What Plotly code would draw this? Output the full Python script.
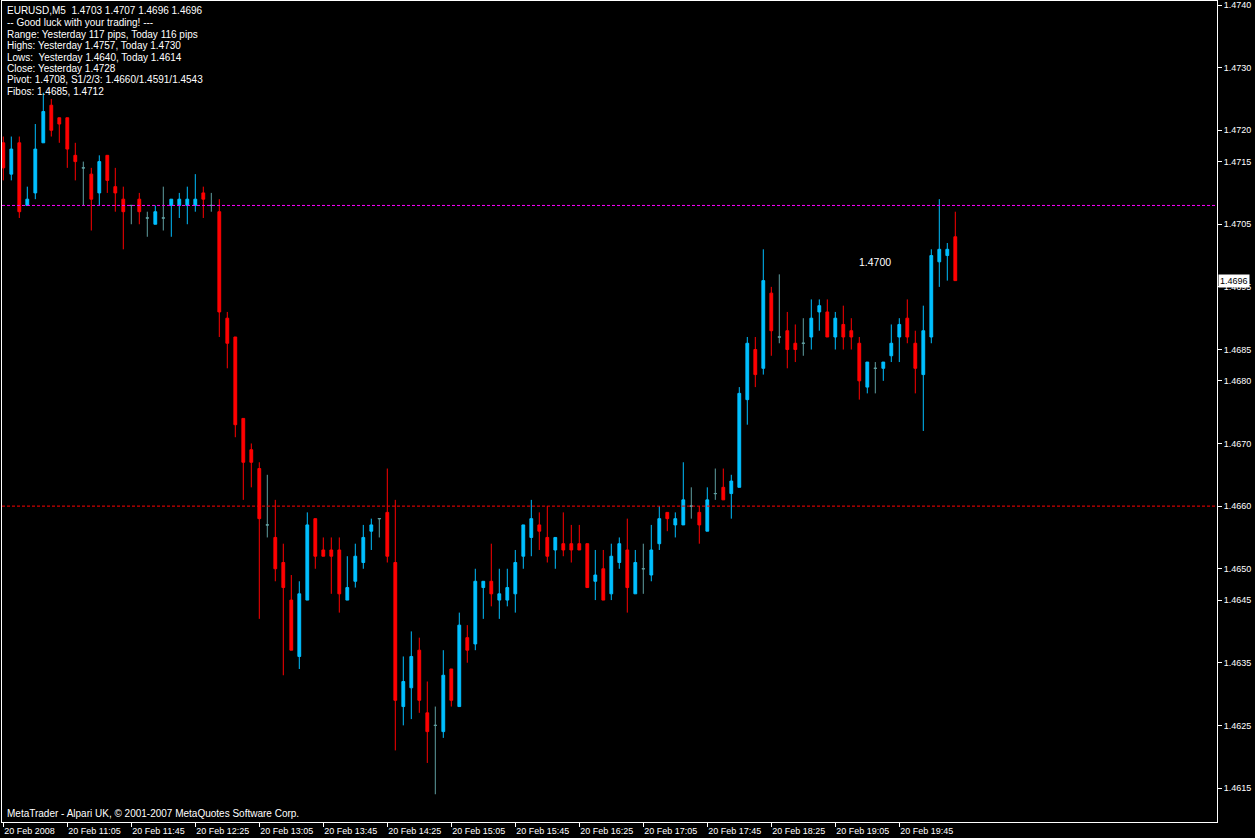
"""
Grafico a candele EURUSD M5 in stile MetaTrader 4 (20 Feb 2008).
"""

import pandas as pd
import plotly.graph_objects as go


# ========== DATI OHLC ==========
opens = [
    1.4718, 1.4713, 1.4718, 1.4708, 1.4710, 1.4718, 1.4724, 1.4722, 1.4722, 1.4716,
    1.4714, 1.4713, 1.4710, 1.4716, 1.4711, 1.4709, 1.4708, 1.4709, 1.4706, 1.4705,
    1.4706, 1.4708, 1.4708, 1.4708, 1.4708, 1.4710, 1.4708, 1.4707, 1.4690, 1.4687,
    1.4674, 1.4669, 1.4666, 1.4657, 1.4655, 1.4651, 1.4645, 1.4636, 1.4645, 1.4658,
    1.4653, 1.4653, 1.4653, 1.4645, 1.4648, 1.4651, 1.4656, 1.4658, 1.4659, 1.4651,
    1.4628, 1.4631, 1.4637, 1.4627, 1.4625, 1.4624, 1.4634, 1.4628, 1.4639, 1.4638,
    1.4647, 1.4648, 1.4645, 1.4645, 1.4646, 1.4652, 1.4655, 1.4657, 1.4655, 1.4653,
    1.4654, 1.4654, 1.4654, 1.4654, 1.4648, 1.4650, 1.4646, 1.4651, 1.4653, 1.4646,
    1.4650, 1.4649, 1.4654, 1.4659, 1.4657, 1.4657, 1.4660, 1.4659, 1.4656, 1.4662,
    1.4663, 1.4662, 1.4663, 1.4677, 1.4685, 1.4682, 1.4694, 1.4687, 1.4688, 1.4686,
    1.4686, 1.4687, 1.4691, 1.4691, 1.4687, 1.4689, 1.4688, 1.4686, 1.4679, 1.4682,
    1.4682, 1.4684, 1.4687, 1.4690, 1.4686, 1.4681, 1.4687, 1.4699, 1.4700, 1.4703,
]
highs = [
    1.4719, 1.4719, 1.4719, 1.4711, 1.4721, 1.4726, 1.4725, 1.4722, 1.4722, 1.4718,
    1.4715, 1.4714, 1.4716, 1.4716, 1.4714, 1.4711, 1.4708, 1.4710, 1.4707, 1.4708,
    1.4711, 1.4709, 1.4710, 1.4711, 1.4713, 1.4711, 1.4710, 1.4709, 1.4691, 1.4687,
    1.4674, 1.4670, 1.4667, 1.4665, 1.4661, 1.4654, 1.4649, 1.4648, 1.4659, 1.4658,
    1.4655, 1.4655, 1.4655, 1.4652, 1.4654, 1.4657, 1.4658, 1.4658, 1.4666, 1.4661,
    1.4636, 1.4640, 1.4639, 1.4632, 1.4628, 1.4637, 1.4634, 1.4643, 1.4641, 1.4650,
    1.4648, 1.4654, 1.4650, 1.4650, 1.4653, 1.4657, 1.4661, 1.4659, 1.4660, 1.4655,
    1.4659, 1.4657, 1.4657, 1.4654, 1.4653, 1.4653, 1.4654, 1.4655, 1.4658, 1.4653,
    1.4654, 1.4657, 1.4660, 1.4659, 1.4659, 1.4667, 1.4663, 1.4660, 1.4663, 1.4666,
    1.4666, 1.4665, 1.4679, 1.4687, 1.4687, 1.4701, 1.4695, 1.4697, 1.4691, 1.4689,
    1.4690, 1.4693, 1.4693, 1.4693, 1.4691, 1.4692, 1.4690, 1.4687, 1.4683, 1.4683,
    1.4683, 1.4689, 1.4690, 1.4693, 1.4688, 1.4692, 1.4701, 1.4709, 1.4702, 1.4707,
]
lows = [
    1.4712, 1.4712, 1.4706, 1.4708, 1.4709, 1.4718, 1.4719, 1.4718, 1.4714, 1.4712,
    1.4708, 1.4704, 1.4708, 1.4710, 1.4707, 1.4701, 1.4705, 1.4705, 1.4703, 1.4705,
    1.4704, 1.4703, 1.4706, 1.4705, 1.4707, 1.4706, 1.4707, 1.4687, 1.4682, 1.4671,
    1.4661, 1.4663, 1.4642, 1.4655, 1.4648, 1.4633, 1.4637, 1.4634, 1.4645, 1.4650,
    1.4652, 1.4646, 1.4643, 1.4645, 1.4647, 1.4650, 1.4653, 1.4655, 1.4651, 1.4621,
    1.4625, 1.4626, 1.4627, 1.4619, 1.4614, 1.4623, 1.4628, 1.4628, 1.4635, 1.4637,
    1.4642, 1.4644, 1.4642, 1.4644, 1.4643, 1.4650, 1.4652, 1.4653, 1.4651, 1.4650,
    1.4652, 1.4651, 1.4653, 1.4647, 1.4645, 1.4645, 1.4645, 1.4650, 1.4643, 1.4646,
    1.4646, 1.4648, 1.4653, 1.4656, 1.4655, 1.4657, 1.4658, 1.4654, 1.4656, 1.4661,
    1.4661, 1.4658, 1.4663, 1.4673, 1.4679, 1.4681, 1.4684, 1.4686, 1.4682, 1.4683,
    1.4684, 1.4685, 1.4688, 1.4687, 1.4685, 1.4685, 1.4685, 1.4677, 1.4678, 1.4678,
    1.4680, 1.4683, 1.4683, 1.4686, 1.4678, 1.4672, 1.4686, 1.4695, 1.4696, 1.4696,
]
closes = [
    1.4714, 1.4717, 1.4707, 1.4709, 1.4717, 1.4723, 1.4720, 1.4721, 1.4717, 1.4715,
    1.4714, 1.4709, 1.4715, 1.4712, 1.4710, 1.4707, 1.4708, 1.4707, 1.4706, 1.4707,
    1.4706, 1.4709, 1.4709, 1.4709, 1.4709, 1.4709, 1.4708, 1.4691, 1.4686, 1.4673,
    1.4667, 1.4667, 1.4658, 1.4657, 1.4650, 1.4647, 1.4637, 1.4646, 1.4657, 1.4652,
    1.4652, 1.4652, 1.4646, 1.4647, 1.4652, 1.4655, 1.4657, 1.4658, 1.4652, 1.4629,
    1.4632, 1.4636, 1.4629, 1.4624, 1.4625, 1.4633, 1.4629, 1.4641, 1.4637, 1.4648,
    1.4648, 1.4646, 1.4646, 1.4647, 1.4651, 1.4657, 1.4658, 1.4656, 1.4652, 1.4655,
    1.4653, 1.4653, 1.4653, 1.4647, 1.4649, 1.4645, 1.4652, 1.4654, 1.4647, 1.4651,
    1.4650, 1.4653, 1.4658, 1.4658, 1.4658, 1.4661, 1.4660, 1.4657, 1.4661, 1.4662,
    1.4661, 1.4664, 1.4678, 1.4686, 1.4681, 1.4696, 1.4688, 1.4687, 1.4685, 1.4685,
    1.4686, 1.4690, 1.4692, 1.4687, 1.4690, 1.4687, 1.4687, 1.4680, 1.4683, 1.4682,
    1.4683, 1.4686, 1.4689, 1.4687, 1.4682, 1.4688, 1.4700, 1.4701, 1.4701, 1.4696,
]

start_time = "2008-02-20 10:25"

# Etichette asse tempo (una ogni 8 barre = 40 minuti)
time_labels = [
    "20 Feb 2008", "20 Feb 11:05", "20 Feb 11:45", "20 Feb 12:25", "20 Feb 13:05",
    "20 Feb 13:45", "20 Feb 14:25", "20 Feb 15:05", "20 Feb 15:45", "20 Feb 16:25",
    "20 Feb 17:05", "20 Feb 17:45", "20 Feb 18:25", "20 Feb 19:05", "20 Feb 19:45",
]

# Etichette asse prezzi (come MetaTrader, non regolari)
price_ticks = [
    1.4740, 1.4730, 1.4720, 1.4715, 1.4705, 1.4695, 1.4685, 1.4680,
    1.4670, 1.4660, 1.4650, 1.4645, 1.4635, 1.4625, 1.4615,
]

pivot_level = 1.4708
s1_level = 1.4660
marker_text = "1.4700"
marker_price = 1.4699

info_lines = [
    "EURUSD,M5  1.4703 1.4707 1.4696 1.4696",
    "-- Good luck with your trading! ---",
    "Range: Yesterday 117 pips, Today 116 pips",
    "Highs: Yesterday 1.4757, Today 1.4730",
    "Lows:  Yesterday 1.4640, Today 1.4614",
    "Close: Yesterday 1.4728",
    "Pivot: 1.4708, S1/2/3: 1.4660/1.4591/1.4543",
    "Fibos: 1.4685, 1.4712",
]
footer_text = "MetaTrader - Alpari UK, \u00a9 2001-2007 MetaQuotes Software Corp."


# ========== STILE ==========
COLORS = {
    'bull': '#00bfff',
    'bear': '#ff0000',
    'doji': '#5f9ea0',
    'pivot': '#ff00ff',
    'support': '#ff0000',
    'text': '#ffffff',
}
FONT = 'Liberation Sans, Arial, sans-serif'

W, H = 1255, 838
M_L, M_R, M_T, M_B = 2, 38, 1, 16
PLOT_H = H - M_T - M_B
BAR_PX = 8.0          # distanza tra candele in pixel
FIRST_PX = 1.3        # centro della prima candela dal bordo sinistro


times = pd.date_range(start_time, periods=len(opens), freq="5min")
step = pd.Timedelta(minutes=5)
x_start = times[0] - step * (FIRST_PX / BAR_PX)
x_end = x_start + step * ((W - M_L - M_R) / BAR_PX)

# prezzo per pixel: 1 pip = 6.264 px
pip_px = 6.264
y_top = 1.4740 + (5 - M_T) / pip_px * 0.0001
y_bot = y_top - PLOT_H / pip_px * 0.0001


def candle_group(idx, color):
    """Crea una traccia candlestick monocolore per gli indici dati."""
    return go.Candlestick(
        x=[times[i] for i in idx],
        open=[opens[i] for i in idx],
        high=[highs[i] for i in idx],
        low=[lows[i] for i in idx],
        close=[closes[i] for i in idx],
        increasing=dict(line=dict(color=color, width=1), fillcolor=color),
        decreasing=dict(line=dict(color=color, width=1), fillcolor=color),
        whiskerwidth=0,
        showlegend=False,
    )


bull_idx = [i for i in range(len(opens)) if closes[i] > opens[i]]
bear_idx = [i for i in range(len(opens)) if closes[i] < opens[i]]
doji_idx = [i for i in range(len(opens)) if closes[i] == opens[i]]

fig = go.Figure()
fig.add_trace(candle_group(bull_idx, COLORS['bull']))
fig.add_trace(candle_group(bear_idx, COLORS['bear']))
fig.add_trace(candle_group(doji_idx, COLORS['doji']))

# linee pivot / S1
fig.add_hline(y=pivot_level, line=dict(color=COLORS['pivot'], width=1, dash='3px,2px'))
fig.add_hline(y=s1_level, line=dict(color=COLORS['support'], width=1, dash='3px,2px'))

# testo informativo in alto a sinistra
annotations = []
for k, line in enumerate(info_lines):
    py = 11 + 11.5 * k
    annotations.append(dict(
        text=line, xref='paper', yref='paper',
        x=(5 - M_L) / (W - M_L - M_R), y=1 - (py - M_T) / PLOT_H,
        xanchor='left', yanchor='middle', showarrow=False,
        font=dict(family=FONT, size=10, color=COLORS['text']),
    ))

annotations.append(dict(
    text=footer_text, xref='paper', yref='paper',
    x=(5 - M_L) / (W - M_L - M_R), y=1 - (813 - M_T) / PLOT_H,
    xanchor='left', yanchor='middle', showarrow=False,
    font=dict(family=FONT, size=10, color=COLORS['text']),
))

# etichetta di testo sul grafico
annotations.append(dict(
    text=marker_text, x=times[109], y=marker_price, xref='x', yref='y',
    showarrow=False, font=dict(family=FONT, size=10.5, color=COLORS['text']),
))

# box prezzo corrente sull'asse destro
annotations.append(dict(
    text=f"{closes[-1]:.4f}", xref='paper', yref='y', x=1, y=closes[-1],
    xanchor='left', yanchor='middle', xshift=1, showarrow=False,
    bgcolor='#ffffff', borderpad=1,
    font=dict(family=FONT, size=9, color='#000000'),
))

fig.update_layout(
    width=W, height=H,
    margin=dict(l=M_L, r=M_R, t=M_T, b=M_B),
    paper_bgcolor='#000000',
    plot_bgcolor='#000000',
    boxgap=0.5,
    showlegend=False,
    annotations=annotations,
    xaxis=dict(
        type='date',
        range=[x_start, x_end],
        rangeslider=dict(visible=False),
        showgrid=False, zeroline=False,
        showline=True, linecolor='#ffffff', linewidth=1, mirror=True,
        ticks='outside', ticklen=4, tickcolor='#ffffff',
        tickvals=list(times[::8]), ticktext=time_labels,
        ticklabelposition='outside right',
        tickfont=dict(family=FONT, size=9, color=COLORS['text']),
    ),
    yaxis=dict(
        side='right',
        range=[y_bot, y_top],
        showgrid=False, zeroline=False,
        showline=True, linecolor='#ffffff', linewidth=1, mirror=True,
        ticks='outside', ticklen=4, tickcolor='#ffffff',
        tickvals=price_ticks, ticktext=[f"{v:.4f}" for v in price_ticks],
        tickfont=dict(family=FONT, size=9, color=COLORS['text']),
    ),
    hovermode='x',
)

fig.write_html(
    "out.html",
    config={'displayModeBar': False},
    post_script="document.body.style.margin='0';document.body.style.background='#000';",
)
